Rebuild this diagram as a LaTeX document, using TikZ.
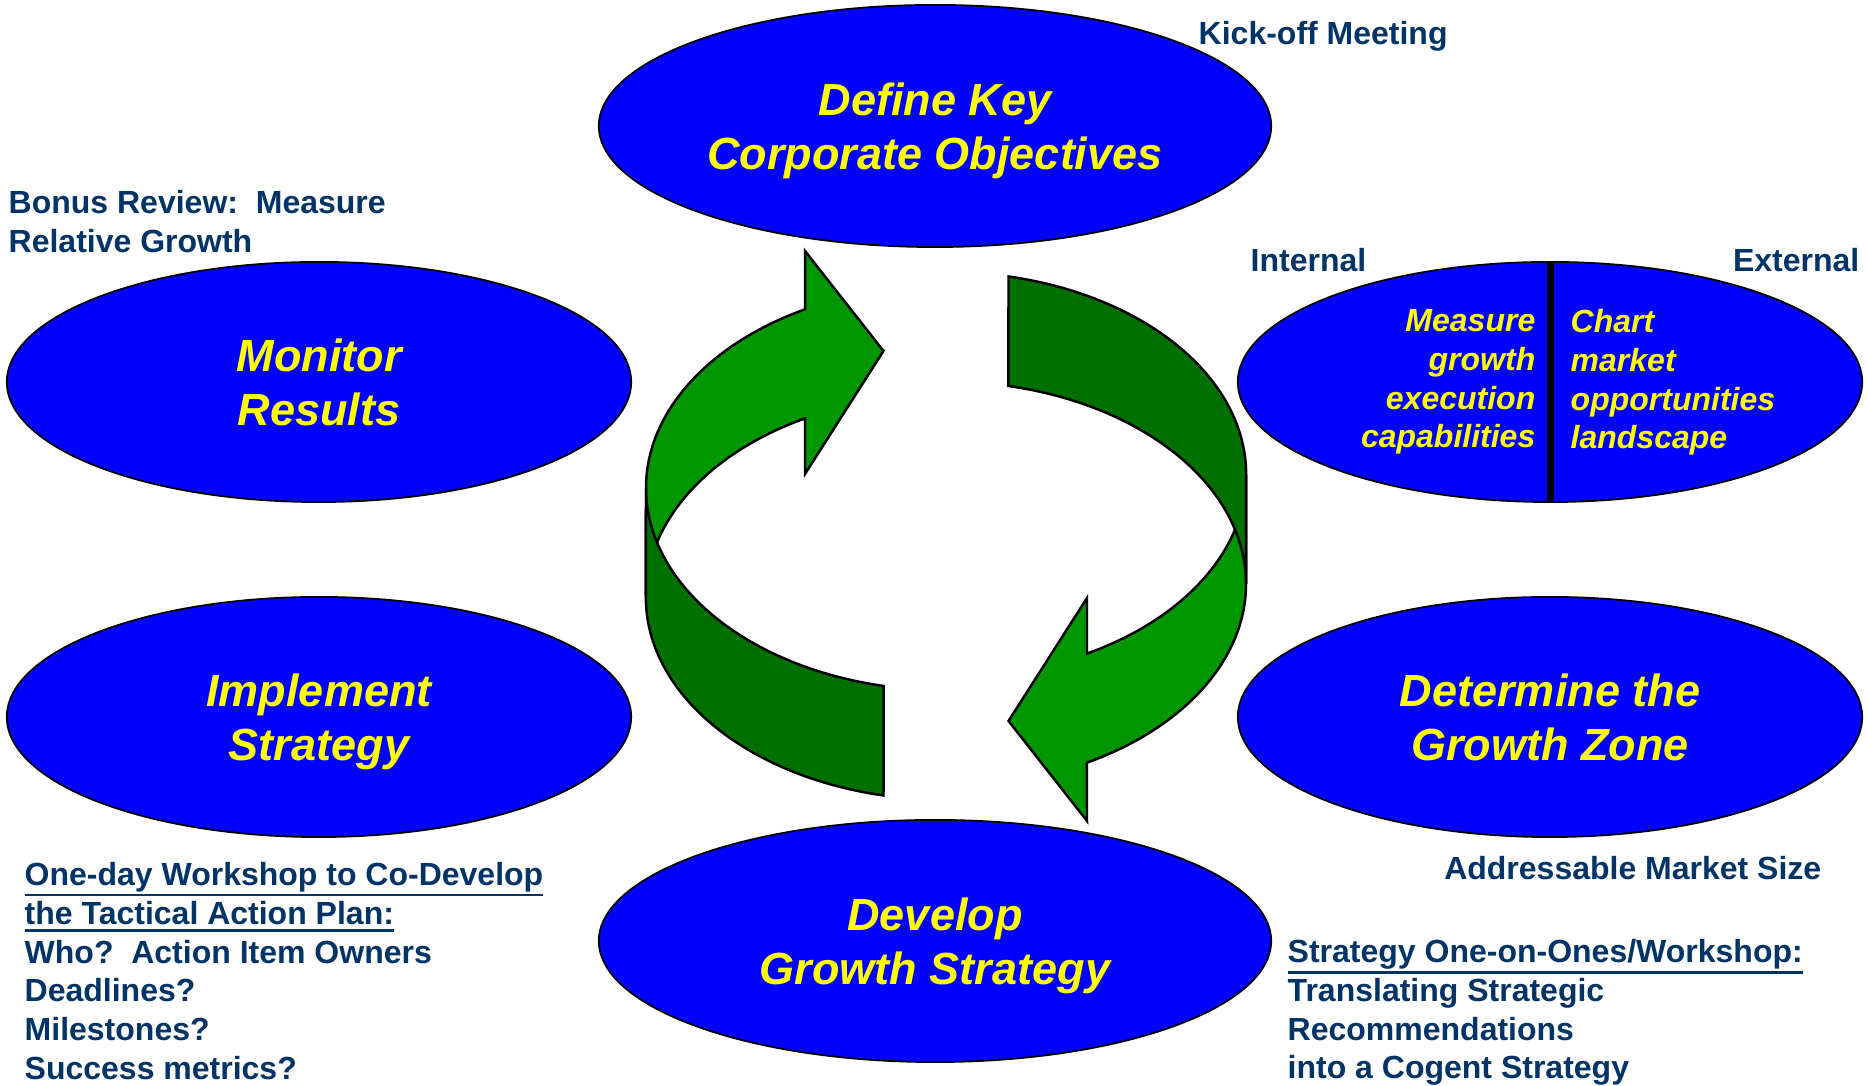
\documentclass[tikz,border=0pt]{standalone}
\usepackage{fontspec}
\setmainfont{Liberation Sans}
\usepackage{xcolor}
\definecolor{cBlue}{HTML}{0000FF}
\definecolor{cYellow}{HTML}{FFFF00}
\definecolor{cNavy}{HTML}{003366}
\definecolor{cGreen}{HTML}{009600}
\definecolor{cGreenDark}{HTML}{007000}
\usetikzlibrary{shapes.geometric}
% heavier underline that sits close under the descenders
\newcommand{\ulnote}[1]{\leavevmode\setbox0\hbox{#1}%
  \ifdim\dp0<1pt \dp0=1pt \fi
  \rlap{\rule[\dimexpr-\dp0-1.1pt\relax]{\wd0}{0.75pt}}\box0}
\tikzset{
  node-phase/.style={ellipse,draw=black,line width=0.5pt,fill=cBlue,inner sep=0pt,
    minimum width=6.24cm,minimum height=2.40cm,align=center,text=cYellow,
    text depth=0pt,font=\fontsize{12.8}{15.25}\selectfont\bfseries\itshape},
  node-wide/.style={minimum width=6.72cm,minimum height=2.42cm},
  node-note/.style={inner sep=0pt,align=left,text=cNavy,
    font=\fontsize{9.1}{11}\selectfont\bfseries},
  node-split/.style={inner sep=0pt,text=cYellow,
    font=\fontsize{9.1}{11}\selectfont\bfseries\itshape},
  band-light/.style={fill=cGreen,draw=black,line width=0.7pt},
  band-dark/.style={fill=cGreenDark,draw=black,line width=0.7pt},
}

\begin{document}
\begin{tikzpicture}[x=0.01cm,y=0.01cm]
  \useasboundingbox (0,0) rectangle (1867,1086);
  % cycle arrows: two ribbons, the second one turned half way round
  \foreach \rot in {0,180} {
    \begin{scope}[shift={(946,550)},rotate=\rot]
      \draw[band-light] (-300,48)
        arc[start angle=180,end angle=118,x radius=300,y radius=202.4]
        -- (-141,285) -- (-62.5,185) -- (-141,62) -- (-141,117.6)
        arc[start angle=118,end angle=180,x radius=300,y radius=202.4] -- cycle;
      \draw[band-dark] (-300,48)
        arc[start angle=180,end angle=258,x radius=300,y radius=202.4]
        -- (-62.5,-259.5)
        arc[start angle=258,end angle=180,x radius=300,y radius=202.4] -- cycle;
    \end{scope}
  }
  % phases
  \node[node-phase,node-wide] (obj)     at (935,960) {Define Key\\Corporate Objectives};
  \node[node-phase]           (monitor) at (319,704) {Monitor\\Results};
  \node[node-phase]           (impl)    at (319,369) {Implement\\Strategy};
  \node[node-phase,node-wide] (dev)     at (935,145) {Develop\\Growth Strategy};
  \node[node-phase]           (zone)    at (1550,369) {Determine the\\Growth Zone};
  \node[node-phase]           (split)   at (1550,704) {};
  \draw[line width=2pt] (split.north) -- (split.south);
  \node[node-split,anchor=north east,align=right] (inttxt) at (1536,777)
    {Measure\\growth\\execution\\capabilities};
  \node[node-split,anchor=north west,align=left]  (exttxt) at (1570,777)
    {Chart\\market\\opportunities\\landscape};
  % notes
  \node[node-note,anchor=north west] (kick)  at (1198,1065) {Kick-off Meeting};
  \node[node-note,anchor=north west] (bonus) at (8,896) {Bonus Review:~~Measure\\Relative Growth};
  \node[node-note,anchor=north west] (int)   at (1250,838) {Internal};
  \node[node-note,anchor=north east] (ext)   at (1860,838) {External};
  \node[node-note,anchor=north east] (tam)   at (1822,230) {Addressable Market Size};
  \node[node-note,anchor=north west] (oneone) at (1287,147)
    {\ulnote{Strategy One-on-Ones/Workshop:}\\Translating Strategic\\Recommendations\\into a Cogent Strategy};
  \node[node-note,anchor=north west] (workshop) at (24,224)
    {\ulnote{One-day Workshop to Co-Develop}\\\ulnote{the Tactical Action Plan:}\\Who?~~Action Item Owners\\Deadlines?\\Milestones?\\Success metrics?};
\end{tikzpicture}
\end{document}
